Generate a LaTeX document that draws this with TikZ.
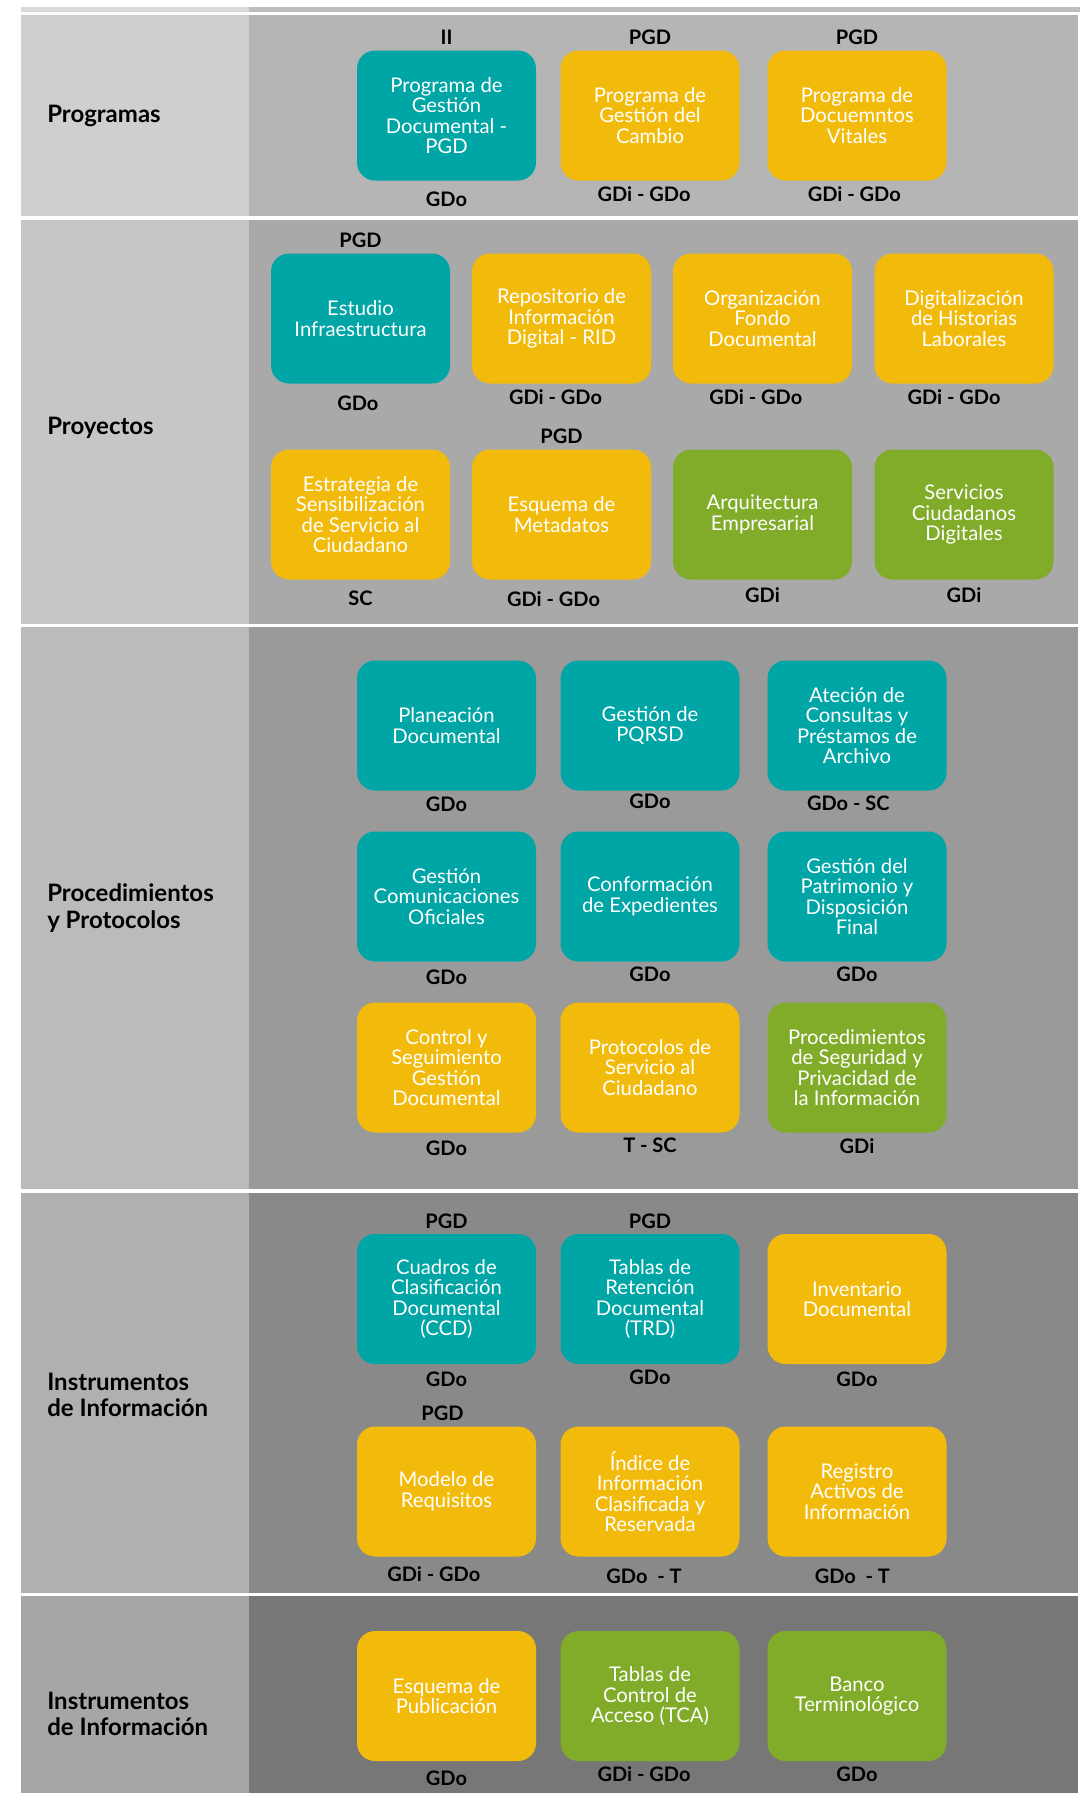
\documentclass[tikz,border=0pt]{standalone}
\usepackage{fontspec}
\setmainfont{Lato}
\usetikzlibrary{positioning}
\definecolor{gdteal}{RGB}{0,165,166}
\definecolor{gdyellow}{RGB}{242,187,12}
\definecolor{gdgreen}{RGB}{129,172,42}
\definecolor{bandtopL}{RGB}{217,217,217}
\definecolor{bandtopR}{RGB}{189,189,189}
\definecolor{bandoneL}{RGB}{207,207,207}
\definecolor{bandoneR}{RGB}{181,181,181}
\definecolor{bandtwoL}{RGB}{198,198,198}
\definecolor{bandtwoR}{RGB}{169,169,169}
\definecolor{bandthreeL}{RGB}{187,187,187}
\definecolor{bandthreeR}{RGB}{154,154,154}
\definecolor{bandfourL}{RGB}{176,176,176}
\definecolor{bandfourR}{RGB}{137,137,137}
\definecolor{bandfiveL}{RGB}{166,166,166}
\definecolor{bandfiveR}{RGB}{119,119,119}
\tikzset{
  box/.style={
    rounded corners=13.5pt,
    minimum width=134.25pt,
    minimum height=97.5pt,
    inner sep=2pt,
    align=center,
    text=white,
    font=\fontsize{15.2}{15.4}\selectfont
  },
  tealbox/.style={box, fill=gdteal},
  yellowbox/.style={box, fill=gdyellow},
  greenbox/.style={box, fill=gdgreen},
  code/.style={inner sep=0pt, text height=10.6pt, text depth=0pt,
    font=\bfseries\fontsize{15}{17}\selectfont},
  section/.style={anchor=west, align=left, inner sep=0pt,
    font=\bfseries\fontsize{18}{20}\selectfont}
}

\begin{document}
\begin{tikzpicture}[x=0.75pt, y=-0.75pt, node distance=4pt]
        \useasboundingbox (0,0) rectangle (1085,1793);
        % background bands
        \fill[bandtopL] (21,7) rectangle (249,12);
        \fill[bandtopR] (249,7) rectangle (1080,12);
        \fill[bandoneL] (21,15) rectangle (249,216);
        \fill[bandoneR] (249,15) rectangle (1078,216);
        \fill[bandtwoL] (21,220) rectangle (249,624);
        \fill[bandtwoR] (249,220) rectangle (1078,624);
        \fill[bandthreeL] (21,627) rectangle (249,1189);
        \fill[bandthreeR] (249,627) rectangle (1078,1189);
        \fill[bandfourL] (21,1193) rectangle (249,1593);
        \fill[bandfourR] (249,1193) rectangle (1078,1593);
        \fill[bandfiveL] (21,1596) rectangle (249,1793);
        \fill[bandfiveR] (249,1596) rectangle (1078,1793);

        % section titles
        \node[section] (programas) at (47,116) {Programas};
        \node[section] (proyectos) at (47,428) {Proyectos};
        \node[section] (procedimientos) at (47,908) {Procedimientos\\y Protocolos};
        \node[section] (instrumentos) at (47,1395) {Instrumentos\\de Información};
        \node[section] (publicacion) at (47,1714) {Instrumentos\\de Información};

        % programas
        \node[tealbox] (prog1) at (446.5,115.5) {Programa de\\Gestión\\Documental -\\PGD};
        \node[yellowbox] (prog2) at (650,115.5) {Programa de\\Gestión del\\Cambio};
        \node[yellowbox] (prog3) at (857,115.5) {Programa de\\Docuemntos\\Vitales};
        \node[code, above=of prog1] (prog1a) {II};
        \node[code, above=of prog2] (prog2a) {PGD};
        \node[code, above=of prog3] (prog3a) {PGD};
        \node[code, below=8.5pt of prog1] (prog1b) {GDo};
        \node[code, below=4.7pt of prog2, xshift=-4.5pt] (prog2b) {GDi - GDo};
        \node[code, below=4.7pt of prog3, xshift=-2pt] (prog3b) {GDi - GDo};

        % proyectos
        \node[tealbox] (proy1) at (360.5,318.5) {Estudio\\Infraestructura};
        \node[yellowbox] (proy2) at (561.5,318.5) {Repositorio de\\Información\\Digital - RID};
        \node[yellowbox] (proy3) at (762.5,318.5) {Organización\\Fondo\\Documental};
        \node[yellowbox] (proy4) at (964,318.5) {Digitalización\\de Historias\\Laborales};
        \node[yellowbox] (proy5) at (360.5,514.5) {Estrategia de\\Sensibilización\\de Servicio al\\Ciudadano};
        \node[yellowbox] (proy6) at (561.5,514.5) {Esquema de\\Metadatos};
        \node[greenbox] (proy7) at (762.5,514.5) {Arquitectura\\Empresarial};
        \node[greenbox] (proy8) at (964,514.5) {Servicios\\Ciudadanos\\Digitales};
        \node[code, above=of proy1] (proy1a) {PGD};
        \node[code, above=of proy6] (proy6a) {PGD};
        \node[code, below=9pt of proy1, xshift=-2pt] (proy1b) {GDo};
        \node[code, below=5pt of proy2, xshift=-4.5pt] (proy2b) {GDi - GDo};
        \node[code, below=5pt of proy3, xshift=-5pt] (proy3b) {GDi - GDo};
        \node[code, below=5pt of proy4, xshift=-7.5pt] (proy4b) {GDi - GDo};
        \node[code, below=8.5pt of proy5] (proy5b) {SC};
        \node[code, below=9pt of proy6, xshift=-6pt] (proy6b) {GDi - GDo};
        \node[code, below=6pt of proy7] (proy7b) {GDi};
        \node[code, below=6pt of proy8] (proy8b) {GDi};

        % procedimientos y protocolos
        \node[tealbox] (proc1) at (446.5,725.5) {Planeación\\Documental};
        \node[tealbox] (proc2) at (650,725.5) {Gestión de\\PQRSD};
        \node[tealbox] (proc3) at (857,725.5) {Ateción de\\Consultas y\\Préstamos de\\Archivo};
        \node[tealbox] (proc4) at (446.5,896.5) {Gestión\\Comunicaciones\\Oficiales};
        \node[tealbox] (proc5) at (650,896.5) {Conformación\\de Expedientes};
        \node[tealbox] (proc6) at (857,896.5) {Gestión del\\Patrimonio y\\Disposición\\Final};
        \node[yellowbox] (proc7) at (446.5,1067.5) {Control y\\Seguimiento\\Gestión\\Documental};
        \node[yellowbox] (proc8) at (650,1067.5) {Protocolos de\\Servicio al\\Ciudadano};
        \node[greenbox] (proc9) at (857,1067.5) {Procedimientos\\de Seguridad y\\Privacidad de\\la Información};
        \node[code, below=5pt of proc1] (proc1b) {GDo};
        \node[code, below=2.5pt of proc2] (proc2b) {GDo};
        \node[code, below=4pt of proc3, xshift=-6.5pt] (proc3b) {GDo - SC};
        \node[code, below=6pt of proc4] (proc4b) {GDo};
        \node[code, below=4pt of proc5] (proc5b) {GDo};
        \node[code, below=4pt of proc6] (proc6b) {GDo};
        \node[code, below=6pt of proc7] (proc7b) {GDo};
        \node[code, below=4pt of proc8] (proc8b) {T - SC};
        \node[code, below=4.5pt of proc9] (proc9b) {GDi};

        % instrumentos de informacion
        \node[tealbox] (inst1) at (446.5,1299) {Cuadros de\\Clasificación\\Documental\\(CCD)};
        \node[tealbox] (inst2) at (650,1299) {Tablas de\\Retención\\Documental\\(TRD)};
        \node[yellowbox] (inst3) at (857,1299) {Inventario\\Documental};
        \node[yellowbox] (inst4) at (446.5,1491.5) {Modelo de\\Requisitos};
        \node[yellowbox] (inst5) at (650,1491.5) {Índice de\\Información\\Clasificada y\\Reservada};
        \node[yellowbox] (inst6) at (857,1491.5) {Registro\\Activos de\\Información};
        \node[code, above=of inst1] (inst1a) {PGD};
        \node[code, above=of inst2] (inst2a) {PGD};
        \node[code, above=of inst4, xshift=-3pt] (inst4a) {PGD};
        \node[code, below=6pt of inst1] (inst1b) {GDo};
        \node[code, below=4pt of inst2] (inst2b) {GDo};
        \node[code, below=5.5pt of inst3] (inst3b) {GDo};
        \node[code, below=7.5pt of inst4, xshift=-9.5pt] (inst4b) {GDi - GDo};
        \node[code, below=9pt of inst5, xshift=-4.5pt] (inst5b) {GDo~ - T};
        \node[code, below=9pt of inst6, xshift=-3.5pt] (inst6b) {GDo~ - T};

        % instrumentos de publicacion
        \node[yellowbox] (pub1) at (446.5,1696) {Esquema de\\Publicación};
        \node[greenbox] (pub2) at (650,1696) {Tablas de\\Control de\\Acceso (TCA)};
        \node[greenbox] (pub3) at (857,1696) {Banco\\Terminológico};
        \node[code, below=7.5pt of pub1] (pub1b) {GDo};
        \node[code, below=4pt of pub2, xshift=-4.5pt] (pub2b) {GDi - GDo};
        \node[code, below=4pt of pub3] (pub3b) {GDo};
      \end{tikzpicture}
\end{document}
